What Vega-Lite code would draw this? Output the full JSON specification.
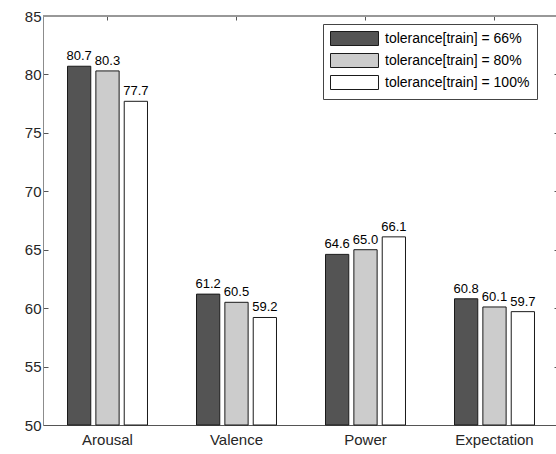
{
  "$schema": "https://vega.github.io/schema/vega-lite/v6.json",
  "autosize": {"type": "none"},
  "padding": {"left": 43, "top": 16, "right": 0, "bottom": 29},
  "width": 513,
  "height": 409,
  "background": "white",
  "config": {
    "view": {"stroke": null},
    "font": "Liberation Sans",
    "axis": {"labelFont": "Liberation Sans", "labelColor": "#262626", "domainColor": "#8c8c8c", "tickColor": "#555555", "grid": false, "title": null}
  },
  "data": {
    "values": [
      {"cat": "Arousal", "tol": "tolerance[train] = 66%", "v": 80.7},
      {"cat": "Arousal", "tol": "tolerance[train] = 80%", "v": 80.3},
      {"cat": "Arousal", "tol": "tolerance[train] = 100%", "v": 77.7},
      {"cat": "Valence", "tol": "tolerance[train] = 66%", "v": 61.2},
      {"cat": "Valence", "tol": "tolerance[train] = 80%", "v": 60.5},
      {"cat": "Valence", "tol": "tolerance[train] = 100%", "v": 59.2},
      {"cat": "Power", "tol": "tolerance[train] = 66%", "v": 64.6},
      {"cat": "Power", "tol": "tolerance[train] = 80%", "v": 65.0},
      {"cat": "Power", "tol": "tolerance[train] = 100%", "v": 66.1},
      {"cat": "Expectation", "tol": "tolerance[train] = 66%", "v": 60.8},
      {"cat": "Expectation", "tol": "tolerance[train] = 80%", "v": 60.1},
      {"cat": "Expectation", "tol": "tolerance[train] = 100%", "v": 59.7}
    ]
  },
  "layer": [
    {
      "mark": {"type": "rule", "color": "#999999", "strokeWidth": 1.5},
      "encoding": {"y": {"datum": 85, "type": "quantitative", "axis": null}}
    },
    {
      "mark": {"type": "bar", "stroke": "#1a1a1a", "strokeWidth": 1},
      "encoding": {
        "x": {"field": "cat", "type": "nominal", "sort": ["Arousal", "Valence", "Power", "Expectation"],
              "scale": {"range": [0, 516], "paddingInner": 0.38, "paddingOuter": 0.19},
              "axis": {"orient": "bottom", "ticks": false, "labelAngle": 0, "labelFontSize": 15, "labelPadding": 7, "domainColor": "#555555"}},
        "xOffset": {"field": "tol", "type": "nominal", "sort": ["tolerance[train] = 66%", "tolerance[train] = 80%", "tolerance[train] = 100%"],
              "scale": {"paddingInner": 0.18, "paddingOuter": 0}},
        "y": {"field": "v", "type": "quantitative", "scale": {"domain": [50, 85], "nice": false, "zero": false},
              "axis": {"orient": "left", "values": [50, 55, 60, 65, 70, 75, 80, 85], "tickSize": -5, "labelFontSize": 15, "labelPadding": 7}},
        "y2": {"datum": 50},
        "fill": {"field": "tol", "type": "nominal",
                 "scale": {"domain": ["tolerance[train] = 66%", "tolerance[train] = 80%", "tolerance[train] = 100%"], "range": ["#545454", "#cccccc", "#ffffff"]},
                 "legend": {"title": null, "orient": "none", "legendX": 280, "legendY": 8,
                            "symbolType": "M-1,-1H5.857V1H-1Z", "symbolSize": 196,
                            "symbolStrokeColor": "#1a1a1a", "symbolStrokeWidth": 1, "symbolOpacity": 1,
                            "labelFont": "Liberation Sans", "labelFontSize": 14, "labelColor": "#000000", "labelOffset": 40,
                            "rowPadding": 3, "padding": 7, "strokeColor": "#444444", "fillColor": "#ffffff", "labelLimit": 300}}
      }
    },
    {
      "mark": {"type": "text", "baseline": "bottom", "dy": -3, "fontSize": 13, "font": "Liberation Sans", "color": "#000000"},
      "encoding": {
        "x": {"field": "cat", "type": "nominal", "sort": ["Arousal", "Valence", "Power", "Expectation"], "axis": null},
        "xOffset": {"field": "tol", "type": "nominal", "sort": ["tolerance[train] = 66%", "tolerance[train] = 80%", "tolerance[train] = 100%"]},
        "y": {"field": "v", "type": "quantitative", "axis": null},
        "text": {"field": "v", "type": "quantitative", "format": ".1f"}
      }
    },
    {
      "mark": {"type": "bar", "opacity": 0},
      "encoding": {
        "x": {"field": "cat", "type": "nominal", "sort": ["Arousal", "Valence", "Power", "Expectation"],
              "axis": {"orient": "top", "labels": false, "tickSize": -4, "tickWidth": 1, "domain": false, "tickColor": "#555555"}},
        "y": {"field": "v", "type": "quantitative",
              "axis": {"orient": "right", "labels": false, "domain": false, "offset": 3, "values": [50, 55, 60, 65, 70, 75, 80, 85], "tickSize": -5}},
        "y2": {"datum": 50}
      }
    }
  ],
  "resolve": {"axis": {"x": "independent", "y": "independent"}}
}
